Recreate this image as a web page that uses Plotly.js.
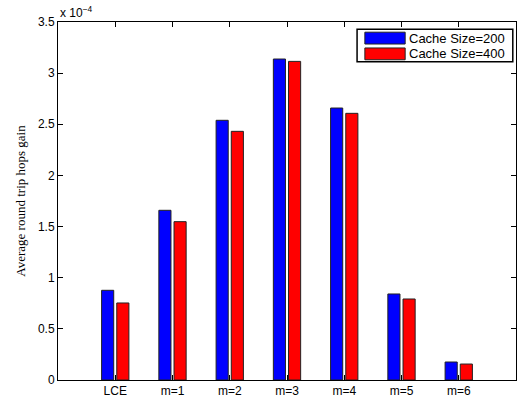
<!DOCTYPE html>
<html>
<head>
<meta charset="utf-8">
<script src="https://cdn.plot.ly/plotly-3.0.1.min.js"></script>
<style>html,body{margin:0;padding:0;background:#fff;}#chart{width:521px;height:400px;}</style>
</head>
<body>
<div id="chart"></div>
<script>
// Data (values in units of 1e-4)
var categories = ["LCE", "m=1", "m=2", "m=3", "m=4", "m=5", "m=6"];
var cache200 = [0.877, 1.659, 2.539, 3.138, 2.659, 0.841, 0.176];
var cache400 = [0.753, 1.548, 2.431, 3.115, 2.607, 0.792, 0.156];
var seriesNames = ["Cache Size=200", "Cache Size=400"];
var seriesColors = ["#0000ff", "#ff0000"];
var yTicks = [0, 0.5, 1, 1.5, 2, 2.5, 3, 3.5];
var yTickText = ["0", "0.5", "1", "1.5", "2", "2.5", "3", "3.5"];
var yTitle = "Average round trip hops gain";
var exponentLabel = "x 10<sup>\u22124</sup>";

var font = {family: "Liberation Sans, Arial, sans-serif", size: 12, color: "#000"};
var legendFont = {family: "Liberation Sans, Arial, sans-serif", size: 13, color: "#000"};

var traces = [cache200, cache400].map(function (vals, i) {
  return {
    type: "bar",
    x: categories,
    y: vals,
    name: seriesNames[i],
    marker: {color: seriesColors[i], line: {color: "#222", width: 1}},
    showlegend: false,
    hoverinfo: "skip"
  };
});

// Custom MATLAB-like legend
var legX0 = 0.653, legX1 = 0.993, legY0 = 0.889, legY1 = 0.980;
var swatchY = [0.955, 0.911];
var shapes = [{
  type: "rect", xref: "paper", yref: "paper",
  x0: legX0, x1: legX1, y0: legY0, y1: legY1,
  line: {color: "#000", width: 1.5}, fillcolor: "#fff"
}];
var annotations = [{
  xref: "paper", yref: "paper", x: 0, y: 1.028, xanchor: "left", yanchor: "middle",
  text: exponentLabel, showarrow: false, font: font
}];
seriesNames.forEach(function (nm, i) {
  var yc = swatchY[i];
  shapes.push({
    type: "rect", xref: "paper", yref: "paper",
    x0: 0.670, x1: 0.758, y0: yc - 0.0165, y1: yc + 0.0165,
    line: {color: "#222", width: 1}, fillcolor: seriesColors[i]
  });
  annotations.push({
    xref: "paper", yref: "paper", x: 0.763, y: yc, xanchor: "left", yanchor: "middle",
    text: nm, showarrow: false, font: legendFont
  });
});

var layout = {
  width: 521, height: 400,
  margin: {l: 58, r: 5, t: 22, b: 20},
  paper_bgcolor: "#fff", plot_bgcolor: "#fff",
  barmode: "group", bargap: 0.47, bargroupgap: 0.2,
  font: font,
  xaxis: {
    type: "category", range: [-1, 7],
    showgrid: false, zeroline: false,
    showline: true, linecolor: "#000", linewidth: 1, mirror: "ticks",
    ticks: "inside", ticklen: 5, tickcolor: "#000",
    tickfont: font, fixedrange: true
  },
  yaxis: {
    range: [0, 3.5], tickvals: yTicks, ticktext: yTickText,
    showgrid: false, zeroline: false,
    showline: true, linecolor: "#000", linewidth: 1, mirror: "ticks",
    ticks: "inside", ticklen: 5, tickcolor: "#000",
    tickfont: font,
    title: {text: yTitle, font: {family: "Liberation Serif, Times New Roman, serif", size: 13, color: "#000"}, standoff: 9},
    automargin: false, fixedrange: true
  },
  shapes: shapes,
  annotations: annotations,
  showlegend: false
};

Plotly.newPlot("chart", traces, layout, {displayModeBar: false, staticPlot: true});
</script>
</body>
</html>
